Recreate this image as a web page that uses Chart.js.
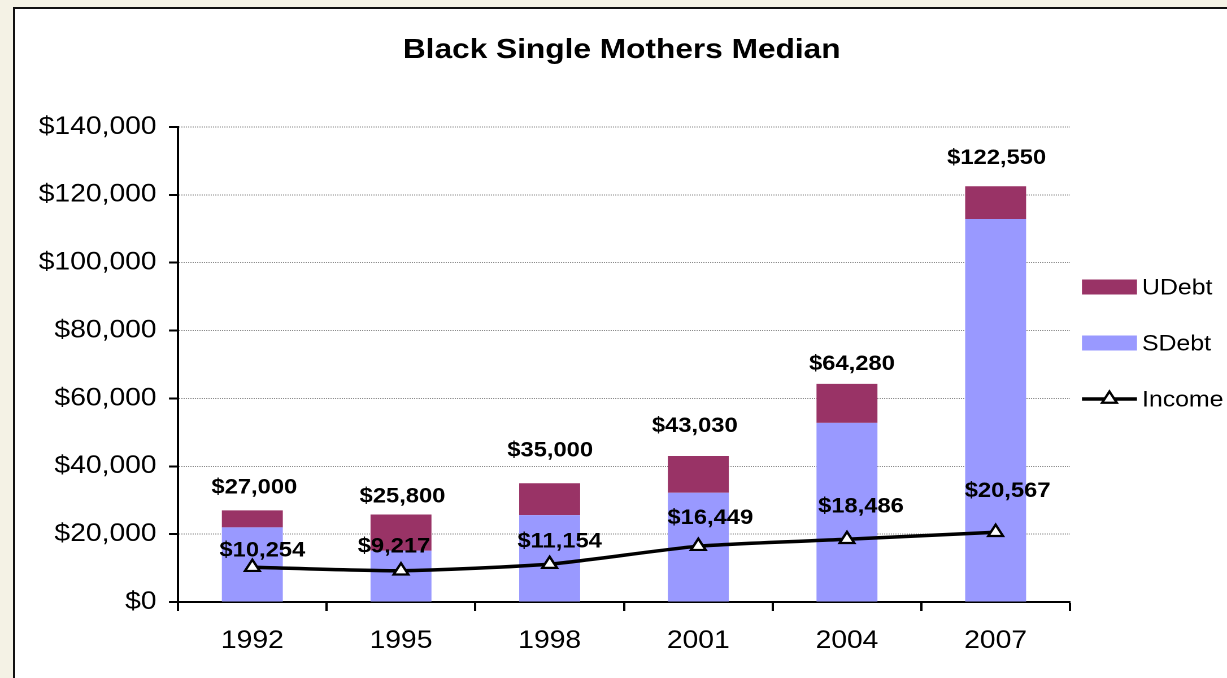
<!DOCTYPE html>
<html>
<head>
<meta charset="utf-8">
<title>Black Single Mothers Median</title>
<script src="https://cdn.jsdelivr.net/npm/chart.js@4.4.1/dist/chart.umd.min.js"></script>
<style>
  html, body { margin: 0; padding: 0; width: 1227px; height: 678px; overflow: hidden; background: #f4f2e5; }
  .frame { position: absolute; left: 13px; top: 7px; width: 1300px; height: 760px; background: #fff; border: 2px solid #111; box-sizing: border-box; }
  /* chart is laid out narrower, then stretched across the page */
  #wrap { position: absolute; left: 0; top: 0; width: 1086px; height: 678px; transform: scaleX(1.12983); transform-origin: 0 0; }
</style>
</head>
<body>
<div class="frame"></div>
<div id="wrap"><canvas id="chart" width="1086" height="678"></canvas></div>
<script>
// --- data ---------------------------------------------
const chartTitle = 'Black Single Mothers Median';
const years = ['1992', '1995', '1998', '2001', '2004', '2007'];
const totals = [27000, 25800, 35000, 43030, 64280, 122550];   // secured + unsecured debt
const sDebt = [22000, 15100, 25600, 32200, 52800, 112900];
const uDebt = totals.map((t, i) => t - sDebt[i]);
const income = [10254, 9217, 11154, 16449, 18486, 20567];
const yMax = 140000;
const yStep = 20000;

// label nudges [dx, lift above mark] in page px - labels were hand placed
const totalNudge = [[2, 17], [1.5, 12], [0.5, 27], [-3.5, 24], [5, 14], [1, 22]];
const incomeNudge = [[10, 10.7], [-7, 18.4], [10, 16.5], [12, 22], [14, 26.6], [12, 35]];

const SX = 1227 / 1086;   // horizontal stretch of #wrap
const FONT = '"Liberation Sans", Arial, Helvetica, sans-serif';
const SDEBT_COLOR = '#9999ff';
const UDEBT_COLOR = '#993366';

const money = (v) => '$' + Number(v).toLocaleString('en-US');

// totals above the stacks, income values above the line
const valueLabels = {
  id: 'valueLabels',
  afterDatasetsDraw(chart) {
    const { ctx } = chart;
    const topBars = chart.getDatasetMeta(1);
    const incomeLine = chart.getDatasetMeta(2);
    ctx.save();
    ctx.font = `bold 21px ${FONT}`;
    ctx.fillStyle = '#000';
    ctx.textAlign = 'center';
    ctx.textBaseline = 'alphabetic';
    topBars.data.forEach((bar, i) => {
      ctx.fillText(money(totals[i]), bar.x + totalNudge[i][0] / SX, bar.y - totalNudge[i][1]);
    });
    incomeLine.data.forEach((pt, i) => {
      ctx.fillText(money(income[i]), pt.x + incomeNudge[i][0] / SX, pt.y - incomeNudge[i][1]);
    });
    ctx.restore();
  }
};

// title + legend on the right
const titleAndLegend = {
  id: 'titleAndLegend',
  afterDraw(chart) {
    const { ctx, chartArea } = chart;
    ctx.save();
    ctx.fillStyle = '#000';
    ctx.font = `bold 28px ${FONT}`;
    ctx.textAlign = 'center';
    ctx.textBaseline = 'alphabetic';
    ctx.fillText(chartTitle, (chartArea.left + chartArea.right) / 2 - 2, 58);

    const x0 = chartArea.right + 12 / SX;
    const sw = 55 / SX;
    const rows = [
      { text: 'UDebt', kind: 'box', color: UDEBT_COLOR },
      { text: 'SDebt', kind: 'box', color: SDEBT_COLOR },
      { text: 'Income', kind: 'line' }
    ];
    ctx.font = `22px ${FONT}`;
    ctx.textAlign = 'left';
    rows.forEach((r, i) => {
      const cy = 287 + i * 56;
      if (r.kind === 'box') {
        ctx.fillStyle = r.color;
        ctx.fillRect(x0, cy - 7.5, sw, 15);
      } else {
        ctx.strokeStyle = '#000';
        ctx.lineWidth = 3.5;
        ctx.beginPath();
        ctx.moveTo(x0, cy);
        ctx.lineTo(x0 + sw, cy);
        ctx.stroke();
        ctx.fillStyle = '#fff';
        ctx.lineWidth = 2.2;
        Chart.helpers.drawPoint(ctx, { pointStyle: 'triangle', radius: 7.5, borderWidth: 2.2, rotation: 0 }, x0 + sw / 2, cy);
      }
      ctx.fillStyle = '#000';
      ctx.fillText(r.text, x0 + sw + 5 / SX, cy + 7.5);
    });
    ctx.restore();
  }
};

new Chart(document.getElementById('chart'), {
  type: 'bar',
  data: {
    labels: years,
    datasets: [
      {
        label: 'SDebt',
        data: sDebt,
        backgroundColor: SDEBT_COLOR,
        stack: 'debt',
        order: 1,
        barPercentage: 0.41,
        categoryPercentage: 1
      },
      {
        label: 'UDebt',
        data: uDebt,
        backgroundColor: UDEBT_COLOR,
        stack: 'debt',
        order: 1,
        barPercentage: 0.41,
        categoryPercentage: 1
      },
      {
        type: 'line',
        label: 'Income',
        data: income,
        stack: 'income',
        order: 0,
        borderColor: '#000',
        borderWidth: 3.5,
        tension: 0.2,
        pointStyle: 'triangle',
        pointRadius: 7.5,
        pointBackgroundColor: '#fff',
        pointBorderColor: '#000',
        pointBorderWidth: 2.2
      }
    ]
  },
  options: {
    responsive: false,
    animation: false,
    devicePixelRatio: 2,
    layout: { padding: { top: 127, right: 139, bottom: 0, left: 0 } },
    plugins: {
      legend: { display: false },
      title: { display: false },
      tooltip: { enabled: false }
    },
    scales: {
      x: {
        stacked: true,
        grid: { display: true, drawOnChartArea: false, drawTicks: true, tickLength: 9, tickColor: '#000', tickWidth: 2, offset: true },
        border: { color: '#000', width: 2 },
        ticks: { color: '#000', font: { family: FONT, size: 25 }, padding: 15 },
        afterFit(scale) { scale.height = 76; }
      },
      y: {
        stacked: true,
        min: 0,
        max: yMax,
        ticks: { stepSize: yStep, callback: (v) => money(v), color: '#000', font: { family: FONT, size: 25 }, padding: 11 },
        grid: { color: '#8a8a8a', lineWidth: 1, tickLength: 8, tickColor: '#000', tickWidth: 2, tickBorderDash: [] },
        border: { color: '#000', width: 2, dash: [1, 1] },
        afterFit(scale) { scale.width = 178 / SX; }
      }
    }
  },
  plugins: [valueLabels, titleAndLegend]
});
</script>
</body>
</html>
